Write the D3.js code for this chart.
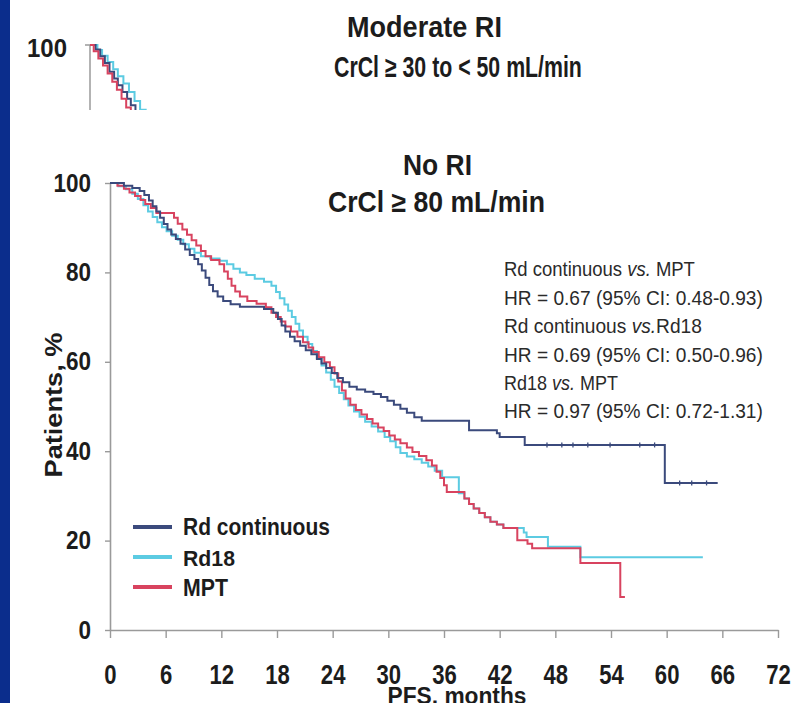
<!DOCTYPE html>
<html><head><meta charset="utf-8">
<script src="https://cdn.jsdelivr.net/npm/d3@7"></script>
<style>
html,body{margin:0;padding:0;background:#fff;}
svg{display:block;font-family:"Liberation Sans",Arial,sans-serif;}
</style></head><body>
<svg id="c" width="791" height="703"></svg>
<script>
// ---------- data ----------
const xTicks = [0, 6, 12, 18, 24, 30, 36, 42, 48, 54, 60, 66, 72];
const yTicks = [0, 20, 40, 60, 80, 100];
const seriesNames = ["Rd continuous", "Rd18", "MPT"];
const seriesColors = ["#3b4a7c", "#5ccbe2", "#d8435f"];

const rdContinuous = [[0,100],[1.5,99.4],[2.4,98.9],[3.2,98.2],[3.7,97.3],[4.2,96.1],[4.6,94.8],[5.0,93.6],[5.4,92.2],[5.8,90.8],[6.2,89.6],[6.6,88.5],[7.1,87.5],[7.6,86.4],[8.1,85.1],[8.6,83.9],[9.1,83.0],[9.5,81.8],[9.9,80.4],[10.3,78.8],[10.7,77.2],[11.1,75.8],[11.6,74.6],[12.2,73.6],[13.0,72.9],[14.0,72.3],[16.6,71.8],[17.6,71.0],[18.1,69.6],[18.5,68.1],[18.9,66.8],[19.4,65.6],[19.9,64.6],[20.5,63.6],[21.1,62.6],[21.7,61.7],[22.3,60.6],[22.8,59.6],[23.3,58.6],[23.9,57.5],[24.5,56.4],[25.1,55.4],[25.8,54.4],[26.6,53.8],[27.5,53.3],[28.4,52.8],[29.2,52.1],[29.9,51.3],[30.6,50.4],[31.3,49.5],[32.0,48.6],[32.8,47.6],[33.6,46.8],[38.7,44.7],[41.7,44.0],[42.0,43.2],[44.7,41.4],[59.8,32.9],[65.5,32.9]];
const rd18 = [[0,100],[0.9,99.3],[1.7,98.6],[2.4,97.6],[3.0,96.4],[3.6,95.0],[4.1,93.6],[4.6,92.4],[5.1,91.2],[5.6,90.1],[6.1,89.2],[6.7,88.2],[7.3,87.3],[7.9,86.3],[8.5,85.3],[9.1,84.4],[9.8,83.6],[10.8,83.1],[11.8,82.6],[12.6,81.8],[13.3,80.8],[14.0,80.0],[14.7,79.4],[15.6,78.6],[16.6,77.9],[17.4,77.0],[17.9,75.6],[18.3,74.2],[18.8,72.8],[19.2,71.4],[19.6,70.0],[20.0,68.5],[20.4,67.0],[20.8,65.6],[21.3,64.0],[21.8,62.4],[22.3,60.8],[22.8,59.2],[23.3,57.6],[23.8,56.0],[24.2,54.4],[24.7,53.0],[25.2,51.6],[25.7,50.2],[26.3,48.9],[26.9,47.7],[27.5,46.6],[28.2,45.5],[28.9,44.4],[29.6,43.2],[30.2,42.2],[30.8,40.9],[31.3,39.6],[32.0,38.8],[32.8,38.2],[33.6,37.4],[34.3,36.6],[35.0,35.6],[35.8,34.2],[37.6,30.6],[38.2,29.4],[38.7,28.2],[39.2,27.2],[39.8,26.2],[40.4,25.2],[41.0,24.2],[41.7,23.6],[42.4,22.8],[44.6,21.8],[44.9,20.8],[47.2,18.6],[50.7,16.3],[63.9,16.3]];
const mpt = [[0,100],[0.8,99.4],[1.5,98.7],[2.1,97.9],[2.7,97.1],[3.3,96.2],[3.8,95.3],[4.4,94.4],[5.0,93.3],[6.9,92.2],[7.3,90.9],[7.8,89.6],[8.3,88.4],[8.8,87.2],[9.3,86.0],[9.8,84.8],[10.3,83.6],[10.9,82.8],[11.8,81.8],[12.3,80.2],[12.7,78.6],[13.1,77.0],[13.5,75.7],[14.0,74.6],[14.8,73.6],[15.8,73.0],[16.8,72.2],[17.4,71.0],[17.9,70.0],[18.4,69.0],[18.9,67.9],[19.5,66.8],[20.2,65.6],[20.8,64.4],[21.4,63.2],[21.9,62.2],[22.5,61.0],[23.1,59.9],[23.7,58.8],[24.2,57.4],[24.6,55.6],[25.0,53.6],[25.4,51.8],[25.9,50.4],[26.5,49.2],[27.1,48.2],[27.7,47.2],[28.3,46.2],[28.9,45.3],[29.5,44.5],[30.1,43.5],[30.7,42.6],[31.3,41.8],[32.0,40.8],[32.6,39.8],[33.3,38.9],[34.1,38.0],[34.7,36.8],[35.2,35.4],[35.6,34.0],[36.0,32.4],[36.3,30.9],[38.2,29.4],[38.7,28.2],[39.2,27.2],[39.8,26.2],[40.4,25.2],[41.0,24.2],[41.7,23.6],[42.4,22.8],[43.9,20.1],[45.0,19.3],[45.5,18.3],[50.7,15.0],[55.0,7.4],[55.5,7.4]];
const rdContinuousCensored = [47.1, 48.7, 49.9, 51.5, 53.9, 57.1, 58.7, 61.4, 62.7, 64.3];

// partial "Moderate RI" panel visible at top
const miniRdContinuous = [[0,100],[0.6,99],[1.1,97.5],[1.6,96],[2.1,94],[2.6,92.5],[3.0,91],[3.5,89.5],[4.0,88],[4.4,86.5],[4.9,85],[5.5,83]];
const miniRd18 = [[0,100],[0.8,98.9],[1.3,97.6],[1.9,96.2],[2.5,94.6],[3.0,93],[3.6,91.4],[4.2,89.5],[4.8,87.5],[5.4,85.5],[6,84]];
const miniMpt = [[0,100],[0.4,98.6],[0.9,97],[1.4,95.4],[1.9,93.6],[2.4,91.8],[2.9,90],[3.4,88],[3.9,86],[4.4,84]];

const annotationLines = [
  ["Rd continuous ", "vs.", " MPT"],
  ["HR = 0.67 (95% CI: 0.48-0.93)"],
  ["Rd continuous ", "vs.", "Rd18"],
  ["HR = 0.69 (95% CI: 0.50-0.96)"],
  ["Rd18 ", "vs.", " MPT"],
  ["HR = 0.97 (95% CI: 0.72-1.31)"]
];

// ---------- drawing ----------
const svg = d3.select("#c");
svg.append("rect").attr("width", 791).attr("height", 703).attr("fill", "#fff");
svg.append("rect").attr("x", 0).attr("y", 0).attr("width", 10).attr("height", 703).attr("fill", "#0b2d8c");

const TXT = "#1c1c1c";
function fit(sel, x0, y0, w, anchor) {
  sel.attr("text-anchor", anchor || "start");
  const n = sel.node().getComputedTextLength();
  const s = w / n;
  sel.attr("transform", `translate(${x0},${y0}) scale(${s},1)`);
  return sel;
}
function label(str, x0, y0, w, size, weight, anchor) {
  const t = svg.append("text").attr("font-size", size).attr("font-weight", weight || "bold").attr("fill", TXT).text(str);
  return fit(t, x0, y0, w, anchor);
}

// ---- top partial panel ----
const clip = svg.append("defs").append("clipPath").attr("id", "topclip");
clip.append("rect").attr("x", 11).attr("y", 0).attr("width", 780).attr("height", 110);
const xm = d3.scaleLinear([0, 72], [90, 758]);
const ym = d3.scaleLinear([0, 100], [492, 45]);
const topPanel = svg.append("g").attr("clip-path", "url(#topclip)");
topPanel.append("line").attr("x1", xm(0)).attr("x2", xm(0)).attr("y1", ym(100)).attr("y2", 120).attr("stroke", "#9a9a9a").attr("stroke-width", 1.5);
topPanel.append("line").attr("x1", xm(0) - 5).attr("x2", xm(0)).attr("y1", ym(100)).attr("y2", ym(100)).attr("stroke", "#9a9a9a").attr("stroke-width", 1.5);
const lineMini = d3.line().x(d => xm(d[0])).y(d => ym(d[1])).curve(d3.curveStepAfter);
[[miniRd18, seriesColors[1]], [miniRdContinuous, seriesColors[0]], [miniMpt, seriesColors[2]]].forEach(([d, c]) => {
  topPanel.append("path").attr("d", lineMini(d)).attr("fill", "none").attr("stroke", c).attr("stroke-width", 2);
});
label("100", 67, 57, 40, 25, "bold", "end");
label("Moderate RI", 347, 37, 155, 29, "bold", "start");
label("CrCl \u2265 30 to < 50 mL/min", 334, 77, 248, 29, "bold", "start");

// ---- main panel ----
const x = d3.scaleLinear([0, 72], [110, 778]);
const y = d3.scaleLinear([0, 100], [630, 183]);

const gx = svg.append("g").attr("transform", "translate(0,630)")
  .call(d3.axisBottom(x).tickValues(xTicks).tickSize(8).tickSizeOuter(0).tickFormat(d3.format("d")));
const gy = svg.append("g").attr("transform", "translate(110,0)")
  .call(d3.axisLeft(y).tickValues(yTicks).tickSize(5).tickSizeOuter(0).tickFormat(d3.format("d")));
[gx, gy].forEach(g => {
  g.select(".domain").attr("stroke", "#9a9a9a").attr("stroke-width", 1.6);
  g.selectAll(".tick line").attr("stroke", "#9a9a9a").attr("stroke-width", 1.4);
});
gx.selectAll(".tick text").attr("y", null).attr("dy", null)
  .attr("font-size", 27).attr("font-weight", "bold").attr("fill", TXT).attr("font-family", "Liberation Sans, Arial, sans-serif")
  .attr("transform", "translate(0,684) scale(0.82,1)".replace("684", "54"));
gy.selectAll(".tick text").attr("x", null)
  .attr("font-size", 25).attr("font-weight", "bold").attr("fill", TXT).attr("font-family", "Liberation Sans, Arial, sans-serif")
  .attr("transform", "translate(-19,0) scale(0.9,1)");

const line = d3.line().x(d => x(d[0])).y(d => y(d[1])).curve(d3.curveStepAfter);
const series = [rdContinuous, rd18, mpt];
[1, 2, 0].forEach(i => {
  svg.append("path").attr("d", line(series[i])).attr("fill", "none")
    .attr("stroke", seriesColors[i]).attr("stroke-width", 2).attr("stroke-linejoin", "miter");
});
function stepAt(data, t) {
  let v = data[0][1];
  for (const d of data) { if (d[0] <= t) v = d[1]; else break; }
  return v;
}
svg.append("g").selectAll("line").data(rdContinuousCensored).join("line")
  .attr("x1", d => x(d)).attr("x2", d => x(d))
  .attr("y1", d => y(stepAt(rdContinuous, d)) - 2.5).attr("y2", d => y(stepAt(rdContinuous, d)) + 2.5)
  .attr("stroke", seriesColors[0]).attr("stroke-width", 1.3);

// titles
label("No RI", 403, 175, 69, 29, "bold", "start");
label("CrCl \u2265 80 mL/min", 328, 212, 217, 29, "bold", "start");

// axis titles
const yt = svg.append("text").attr("font-size", 24).attr("font-weight", "bold").attr("fill", TXT)
  .attr("text-anchor", "middle").text("Patients, %");
{
  const n = yt.node().getComputedTextLength();
  yt.attr("transform", `translate(62,405) rotate(-90) scale(${145 / n},1)`);
}
label("PFS, months", 457, 704, 139, 23, "bold", "middle");

// annotation
const annBase = [276, 304.5, 333, 361.5, 390, 418];
const annW = [191, 259, 198, 259, 114, 259];
annotationLines.forEach((parts, i) => {
  const t = svg.append("text").attr("font-size", 21).attr("fill", "#2a2a2a");
  parts.forEach(p => {
    t.append("tspan").attr("font-style", p === "vs." ? "italic" : "normal").text(p);
  });
  fit(t, 504, annBase[i], annW[i], "start");
});

// legend
const legY = [527, 557, 587];
const legBase = [535, 566, 596];
const legW = [147, 52, 45];
seriesNames.forEach((nm, i) => {
  svg.append("line").attr("x1", 133).attr("x2", 172).attr("y1", legY[i]).attr("y2", legY[i])
    .attr("stroke", seriesColors[i]).attr("stroke-width", 4);
  label(nm, 183, legBase[i], legW[i], 23, "bold", "start");
});
</script>
</body></html>
